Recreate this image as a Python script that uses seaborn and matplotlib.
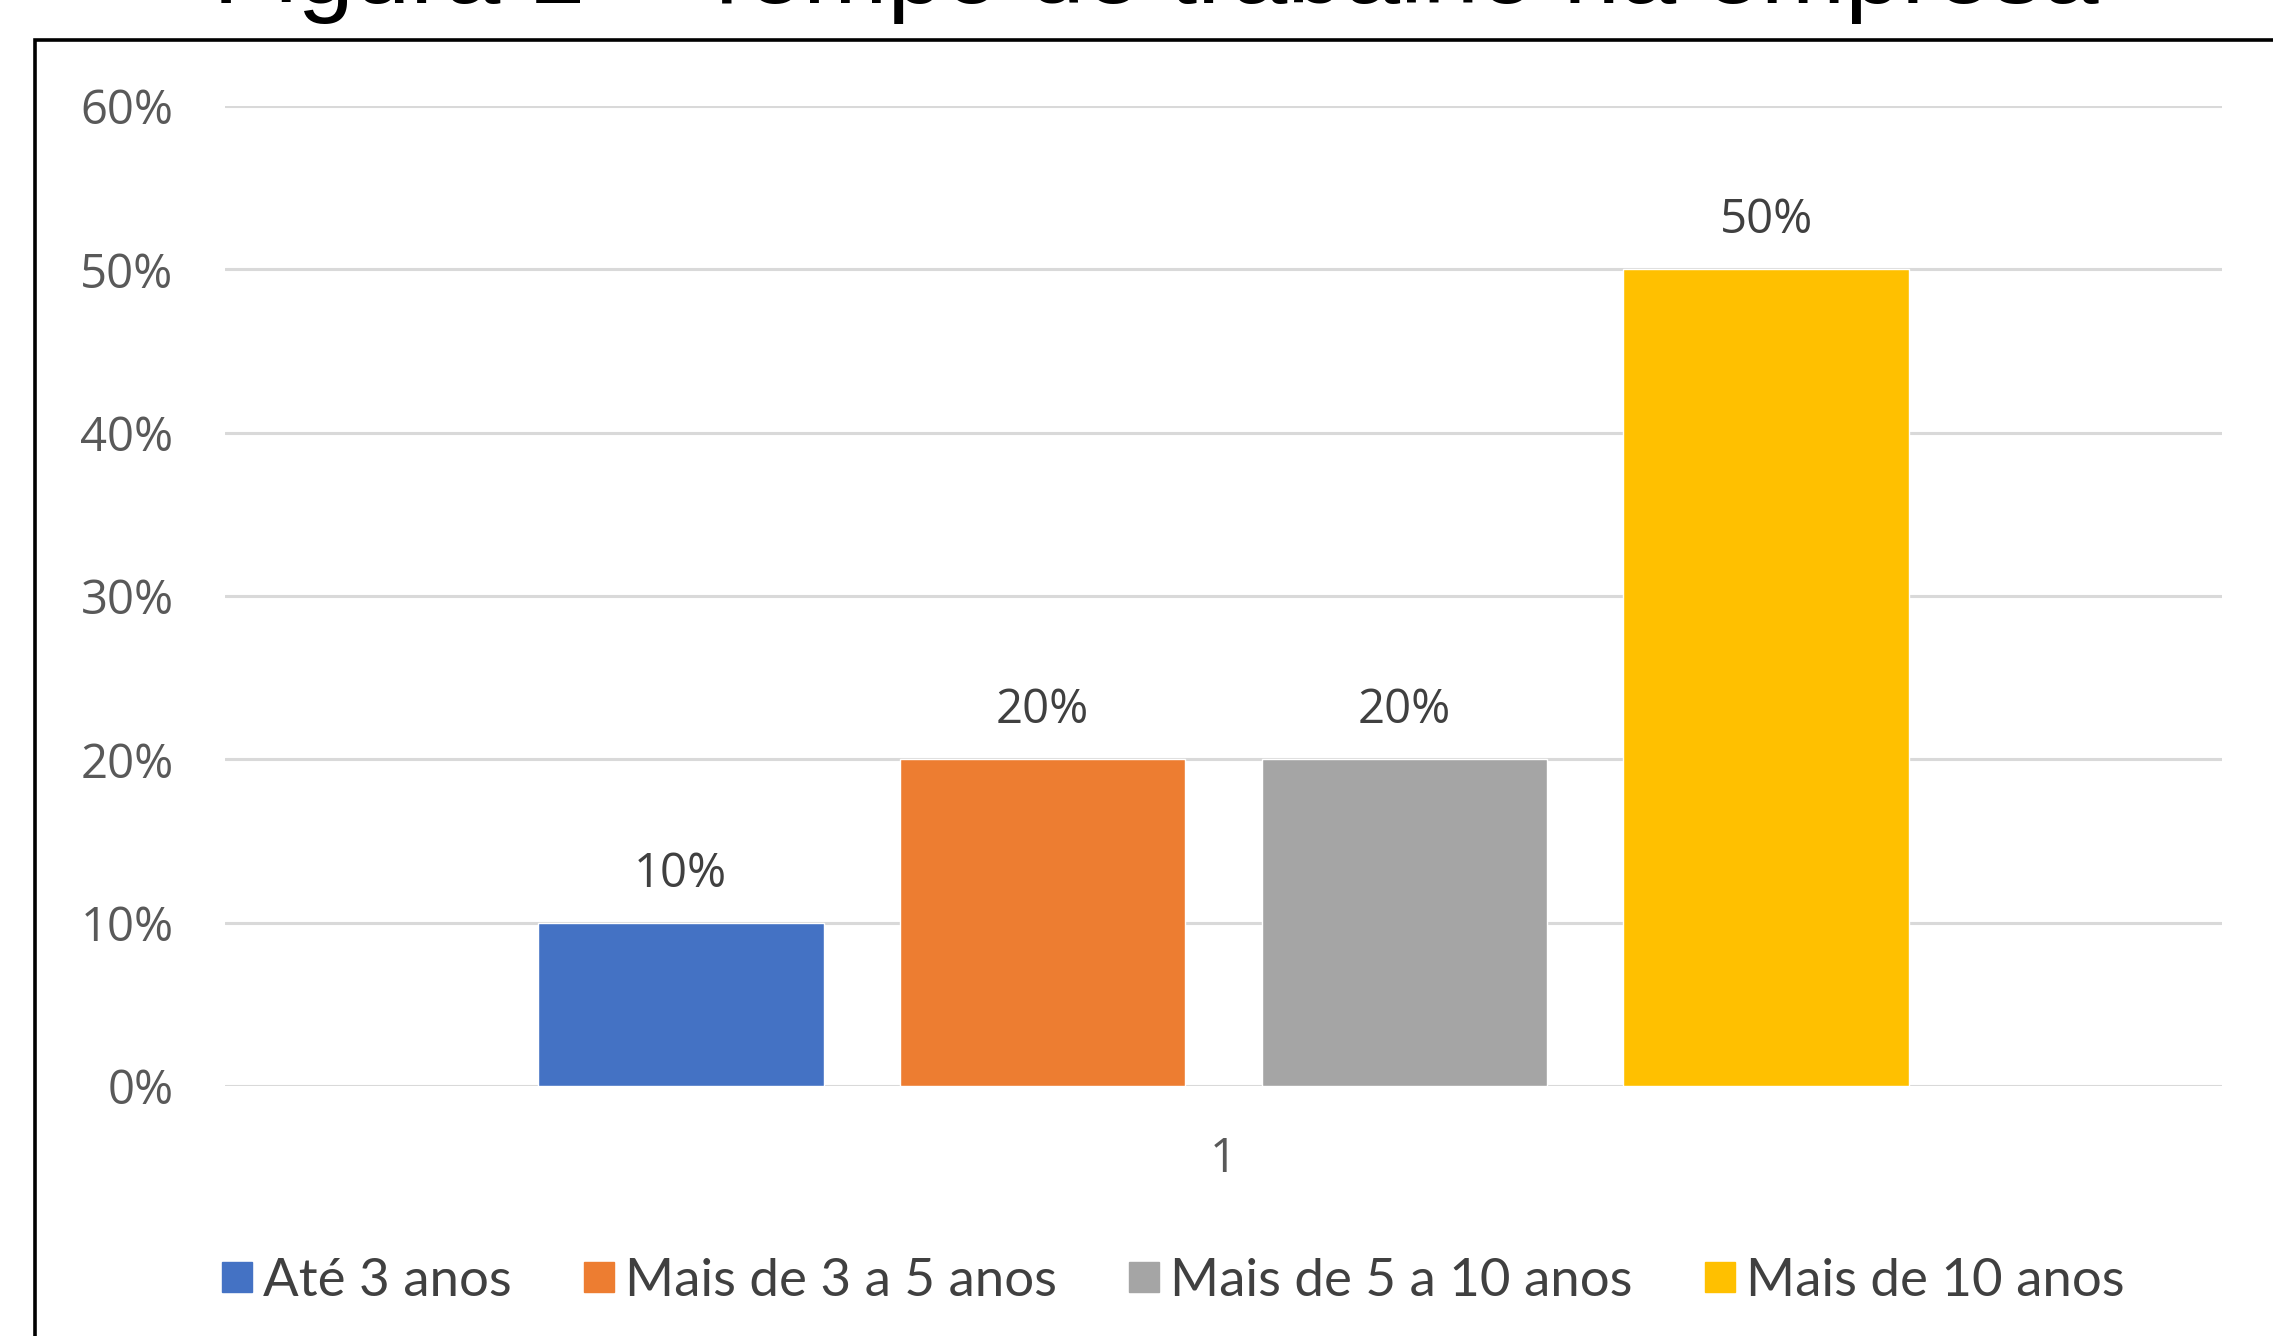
import matplotlib
matplotlib.use("Agg")
import matplotlib.pyplot as plt
import seaborn as sns
import pandas as pd
from matplotlib.patches import Rectangle
from matplotlib.lines import Line2D
from matplotlib.ticker import FuncFormatter

# ---- data ----
categories = ["1"]
series = ["Até 3 anos", "Mais de 3 a 5 anos", "Mais de 5 a 10 anos", "Mais de 10 anos"]
values = [0.10, 0.20, 0.20, 0.50]
colors = ["#4472C4", "#ED7D31", "#A5A5A5", "#FFC000"]
yticks = [0.0, 0.1, 0.2, 0.3, 0.4, 0.5, 0.6]
title_text = "Figura 1 – Tempo de trabalho na empresa"

df = pd.DataFrame({"cat": categories * len(series), "serie": series, "value": values})

sns.set_theme(style="white")
plt.rcParams["font.family"] = ["Open Sans", "DejaVu Sans"]

W, H = 2273, 1336
fig = plt.figure(figsize=(W / 100, H / 100), dpi=100)
fig.patch.set_facecolor("white")

# outer frame (extends beyond right/bottom)
frame = Rectangle((35 / W, -0.1), 1.2, (1 - 40 / H) + 0.1, transform=fig.transFigure,
                  fill=False, edgecolor="black", linewidth=2.6, zorder=0)
fig.add_artist(frame)

# cut-off title at the very top
fig.text(213 / W, 1.0 - 3 / H, title_text, ha="left", va="baseline",
         fontsize=73, family=["Liberation Sans", "DejaVu Sans"], color="black")

ax = fig.add_axes([225 / W, 1 - 1086 / H, (2222 - 225) / W, (1086 - 106) / H])
sns.barplot(data=df, x="cat", y="value", hue="serie", hue_order=series,
            palette=colors, width=0.725, gap=0.21, ax=ax, legend=False,
            saturation=1, zorder=3)

ax.set_ylim(0, 0.6)
ax.set_xlim(-0.5, 0.5)
ax.set_yticks(yticks)
ax.yaxis.set_major_formatter(FuncFormatter(lambda v, p: f"{v*100:.0f}%"))
ax.grid(axis="y", color="#D9D9D9", linewidth=2.2, zorder=0)
ax.set_axisbelow(True)
for s in ax.spines.values():
    s.set_visible(False)
ax.tick_params(axis="y", length=0, pad=37, labelsize=34, labelcolor="#595959")
ax.tick_params(axis="x", length=0, pad=36, labelsize=34, labelcolor="#595959")
ax.set_xlabel("")
ax.set_ylabel("")

for cont, v in zip(ax.containers, values):
    ax.bar_label(cont, labels=[f"{v*100:.0f}%"], padding=18, fontsize=34, color="#404040")

handles = [Line2D([0], [0], marker="s", linestyle="none", markersize=21,
                  markerfacecolor=c, markeredgecolor=c) for c in colors]
fig.legend(handles, series, loc="center", bbox_to_anchor=(1174 / W, 1 - 1281 / H),
           ncol=4, frameon=False, handlelength=0.5, handletextpad=0.25,
           columnspacing=1.4, prop={"family": ["Lato", "DejaVu Sans"], "size": 38},
           labelcolor="#404040")

fig.savefig("out.png", dpi=100)
